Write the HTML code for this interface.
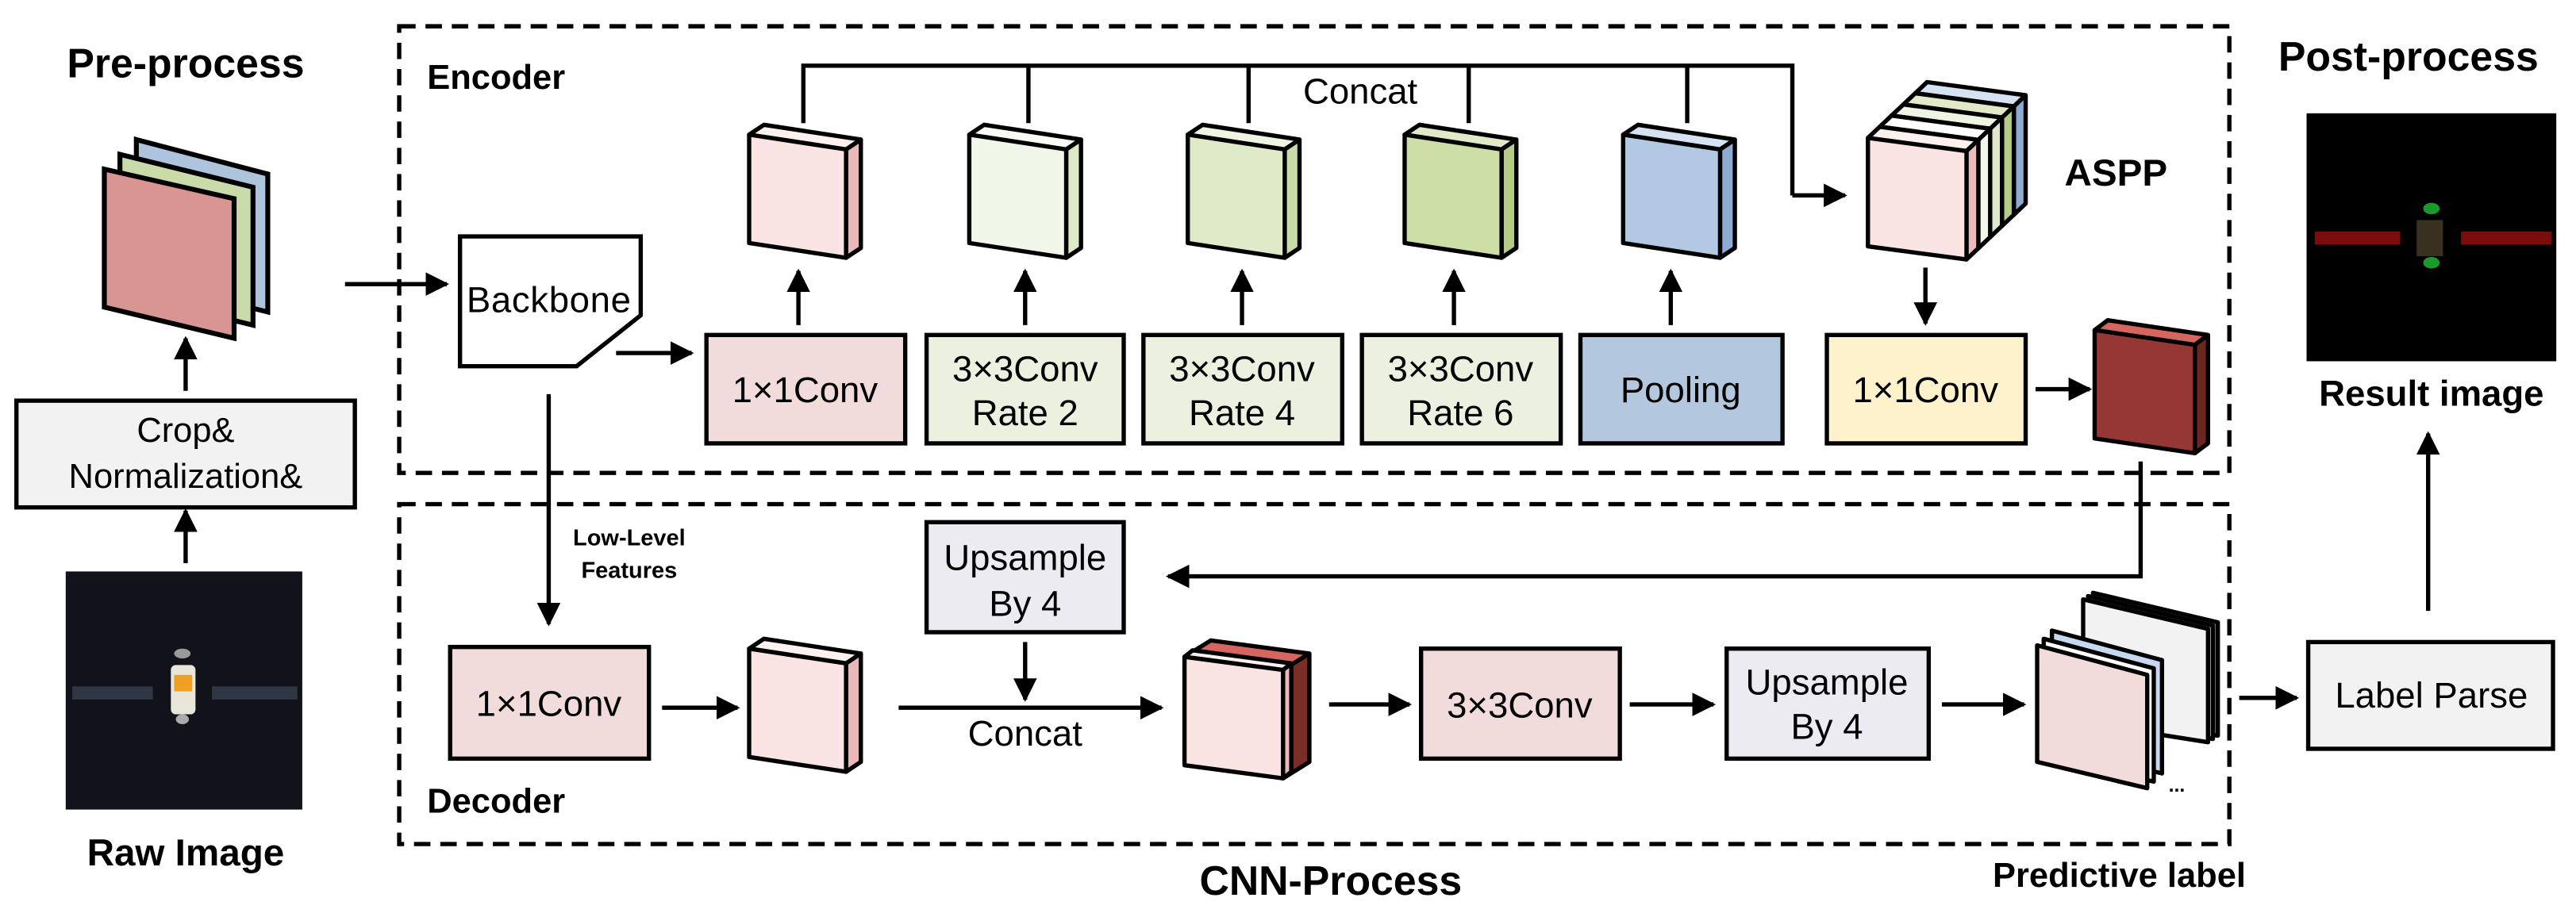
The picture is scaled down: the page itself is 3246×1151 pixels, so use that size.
<!DOCTYPE html>
<html><head><meta charset="utf-8"><style>
html,body{margin:0;padding:0;background:#fff;}
svg{display:block;}
text{font-family:"Liberation Sans",Arial,sans-serif;fill:#000;}
.b{font-weight:bold;}
</style></head><body>
<svg width="3246" height="1151" viewBox="0 0 1568 556" preserveAspectRatio="none" xmlns="http://www.w3.org/2000/svg">
<defs>
<marker id="ah" viewBox="0 0 10 10" refX="9" refY="5" markerWidth="5.5" markerHeight="5.5" orient="auto" markerUnits="strokeWidth">
<path d="M0,0 L10,5 L0,10 z" fill="#000"/></marker>
</defs>
<g stroke="#000" stroke-width="2.6" fill="none" stroke-dasharray="10,6">
<rect x="243" y="16" width="1114" height="272"/>
<rect x="243" y="307" width="1114" height="207"/>
</g>

<text x="113" y="47" font-size="25" class="b" text-anchor="middle">Pre-process</text>
<text x="260" y="54" font-size="21" class="b">Encoder</text>
<text x="260" y="495" font-size="21" class="b">Decoder</text>
<text x="113" y="527" font-size="23" class="b" text-anchor="middle">Raw Image</text>
<text x="810" y="545" font-size="25" class="b" text-anchor="middle">CNN-Process</text>
<text x="1290" y="540" font-size="21" class="b" text-anchor="middle">Predictive label</text>
<text x="1466" y="43" font-size="25" class="b" text-anchor="middle">Post-process</text>
<text x="1480" y="247" font-size="22" class="b" text-anchor="middle">Result image</text>
<text x="1288" y="113" font-size="23" class="b" text-anchor="middle">ASPP</text>

<g stroke="#000" stroke-width="3" stroke-linejoin="miter">
<polygon points="83,85 163,106 163,190 83,170" fill="#aec3dc"/>
<polygon points="73,94 154,114 154,198 73,178" fill="#c9dba8"/>
<polygon points="63.5,103 142.5,121 142.5,206 63.5,187" fill="#d99592"/>
</g>

<rect x="10" y="244" width="206" height="65" fill="#f2f2f2" stroke="#000" stroke-width="2.6"/>
<text x="113" y="269" font-size="21" text-anchor="middle">Crop&amp;</text>
<text x="113" y="297" font-size="21" text-anchor="middle">Normalization&amp;</text>

<rect x="40" y="348" width="144" height="145" fill="#12121a"/>
<rect x="44" y="418" width="49" height="8" fill="#2f3744"/>
<rect x="129" y="418" width="52" height="8" fill="#2f3744"/>
<ellipse cx="111" cy="398" rx="5" ry="3" fill="#9a9a9a"/>
<rect x="104" y="405" width="15" height="30" rx="3" fill="#e8e6d8"/>
<rect x="106" y="411" width="11" height="10" fill="#f0a020"/>
<ellipse cx="111" cy="438" rx="4" ry="3" fill="#aaa"/>

<rect x="1404" y="69" width="152" height="151" fill="#000"/>
<rect x="1409" y="141" width="52" height="8" fill="#7a0c0c"/>
<rect x="1498" y="141" width="55" height="8" fill="#7a0c0c"/>
<rect x="1471" y="134" width="16" height="22" fill="#3a3020"/>
<ellipse cx="1480" cy="127" rx="5" ry="3.5" fill="#1a9a2a"/>
<ellipse cx="1480" cy="160" rx="5" ry="3.5" fill="#1a9a2a"/>

<polygon points="280,144 390,144 390,192 351,223 280,223" fill="#fff" stroke="#000" stroke-width="2.6"/>
<text x="334" y="190" font-size="22" text-anchor="middle" textLength="100">Backbone</text>

<g stroke="#000" stroke-width="2.6">
<rect x="430" y="204" width="121" height="66" fill="#f2dcdb"/>
<rect x="564" y="204" width="120" height="66" fill="#ebf1de"/>
<rect x="696" y="204" width="121" height="66" fill="#ebf1de"/>
<rect x="829" y="204" width="121" height="66" fill="#ebf1de"/>
<rect x="962" y="204" width="123" height="66" fill="#b3c7de"/>
<rect x="1112" y="204" width="121" height="66" fill="#fef2cc"/>
</g>
<g font-size="22" text-anchor="middle">
<text x="490" y="245">1×1Conv</text>
<text x="624" y="232">3×3Conv</text><text x="624" y="259">Rate 2</text>
<text x="756" y="232">3×3Conv</text><text x="756" y="259">Rate 4</text>
<text x="889" y="232">3×3Conv</text><text x="889" y="259">Rate 6</text>
<text x="1023" y="245">Pooling</text>
<text x="1172" y="245">1×1Conv</text>
</g>

<g stroke="#000" stroke-width="2.6" stroke-linejoin="round">
<polygon points="456,82 515,91 524,85 465,76" fill="#fdf1f0"/><polygon points="515,91 524,85 524,151 515,157" fill="#e8b9b8"/><polygon points="456,82 515,91 515,157 456,148" fill="#f9e4e3"/>
<polygon points="590,82 649,91 658,85 599,76" fill="#f8fbf3"/><polygon points="649,91 658,85 658,151 649,157" fill="#dde9c9"/><polygon points="590,82 649,91 649,157 590,148" fill="#f1f7e8"/>
<polygon points="723,82 782,91 791,85 732,76" fill="#eef4e2"/><polygon points="782,91 791,85 791,151 782,157" fill="#c9dba8"/><polygon points="723,82 782,91 782,157 723,148" fill="#dfeac9"/>
<polygon points="855,82 914,91 923,85 864,76" fill="#e0eac8"/><polygon points="914,91 923,85 923,151 914,157" fill="#b6cc86"/><polygon points="855,82 914,91 914,157 855,148" fill="#ccdda5"/>
<polygon points="988,82 1047,91 1056,85 997,76" fill="#d5e2f1"/><polygon points="1047,91 1056,85 1056,151 1047,157" fill="#8eabd2"/><polygon points="988,82 1047,91 1047,157 988,148" fill="#b3c8e2"/>

<polygon points="1165.8,56.8 1225.8,64.8 1233,58 1173,50" fill="#d5e2f1"/><polygon points="1225.8,64.8 1233,58 1233,124 1225.8,130.8" fill="#8eabd2"/><polygon points="1165.8,56.8 1225.8,64.8 1225.8,130.8 1165.8,122.8" fill="#b3c8e2"/>
<polygon points="1158.6,63.6 1218.6,71.6 1225.8,64.8 1165.8,56.8" fill="#e0eac8"/><polygon points="1218.6,71.6 1225.8,64.8 1225.8,130.8 1218.6,137.6" fill="#b6cc86"/><polygon points="1158.6,63.6 1218.6,71.6 1218.6,137.6 1158.6,129.6" fill="#ccdda5"/>
<polygon points="1151.4,70.4 1211.4,78.4 1218.6,71.6 1158.6,63.6" fill="#eef4e2"/><polygon points="1211.4,78.4 1218.6,71.6 1218.6,137.6 1211.4,144.4" fill="#dde9c9"/><polygon points="1151.4,70.4 1211.4,78.4 1211.4,144.4 1151.4,136.4" fill="#dfeac9"/>
<polygon points="1144.2,77.2 1204.2,85.2 1211.4,78.4 1151.4,70.4" fill="#fff"/><polygon points="1204.2,85.2 1211.4,78.4 1211.4,144.4 1204.2,151.2" fill="#f2f7ea"/><polygon points="1144.2,77.2 1204.2,85.2 1204.2,151.2 1144.2,143.2" fill="#fff"/>
<polygon points="1137,84 1197,92 1204.2,85.2 1144.2,77.2" fill="#fdf1f0"/><polygon points="1197,92 1204.2,85.2 1204.2,151.2 1197,158" fill="#ebbcbb"/><polygon points="1137,84 1197,92 1197,158 1137,150" fill="#f9e4e3"/>

<polygon points="1275,201 1336,210 1344,204 1283,195" fill="#d4665f"/><polygon points="1336,210 1344,204 1344,270 1336,276" fill="#6e2520"/><polygon points="1275,201 1336,210 1336,276 1275,267" fill="#953735"/>

<polygon points="456,395 515,404 524,398 465,389" fill="#fdf1f0"/><polygon points="515,404 524,398 524,464 515,470" fill="#e8b9b8"/><polygon points="456,395 515,404 515,470 456,461" fill="#f9e4e3"/>

<polygon points="721,400 781,408 797,398 737,390" fill="#d4665f"/>
<polygon points="781,408 797,398 797,464 781,474" fill="#7a2e28"/>
<polygon points="721,400 781,408 786,404 726,396" fill="#fdf1f0"/>
<polygon points="781,408 786,404 786,470 781,474" fill="#e8b9b8"/>
<polygon points="721,400 781,408 781,474 721,466" fill="#f9e4e3"/>

<polygon points="1274,361 1350,379 1350,448 1274,436" fill="#888"/>
<polygon points="1271,363 1347,381 1347,450 1271,438" fill="#bbb"/>
<polygon points="1268,365 1344,383 1344,452 1268,440" fill="#f2f2f2"/>
<polygon points="1249,384 1316,402 1316,471 1249,455" fill="#c6d9f0"/>
<polygon points="1244,389 1311,407 1311,476 1244,460" fill="#fff"/>
<polygon points="1240,393 1307,411 1307,480 1240,464" fill="#f2dcdb"/>
</g>
<text x="1320" y="482" font-size="12" class="b">...</text>

<g stroke="#000" stroke-width="2.6">
<rect x="274" y="394" width="121" height="68" fill="#f2dcdb"/>
<rect x="564" y="318" width="120" height="67" fill="#ecebf2"/>
<rect x="865" y="395" width="121" height="67" fill="#f2dcdb"/>
<rect x="1051" y="395" width="123" height="67" fill="#ecebf2"/>
<rect x="1405" y="391" width="149" height="65" fill="#f2f2f2"/>
</g>
<g font-size="22" text-anchor="middle">
<text x="334" y="436">1×1Conv</text>
<text x="624" y="347">Upsample</text><text x="624" y="375">By 4</text>
<text x="925" y="437">3×3Conv</text>
<text x="1112" y="423">Upsample</text><text x="1112" y="450">By 4</text>
<text x="1480" y="431">Label Parse</text>
<text x="828" y="63">Concat</text>
<text x="624" y="454">Concat</text>
</g>
<text x="383" y="332" font-size="14" class="b" text-anchor="middle">Low-Level</text>
<text x="383" y="352" font-size="14" class="b" text-anchor="middle">Features</text>

<g stroke="#000" stroke-width="2.6" fill="none">
<path d="M489,75 V40 H1091 V119" />
<path d="M626,40 V75 M760,40 V75 M894,40 V75 M1027,40 V75"/>
<path d="M1091,119 H1123" marker-end="url(#ah)"/>
<path d="M113,238 V206" marker-end="url(#ah)"/>
<path d="M113,343 V311" marker-end="url(#ah)"/>
<path d="M210,173 H272" marker-end="url(#ah)"/>
<path d="M375,215 H421" marker-end="url(#ah)"/>
<path d="M486,198 V165" marker-end="url(#ah)"/>
<path d="M624,198 V165" marker-end="url(#ah)"/>
<path d="M756,198 V165" marker-end="url(#ah)"/>
<path d="M885,198 V165" marker-end="url(#ah)"/>
<path d="M1017,198 V165" marker-end="url(#ah)"/>
<path d="M1172,163 V197" marker-end="url(#ah)"/>
<path d="M1239,237 H1272" marker-end="url(#ah)"/>
<path d="M334,240 V380" marker-end="url(#ah)"/>
<path d="M403,431 H449" marker-end="url(#ah)"/>
<path d="M1303,281 V351 H711" marker-end="url(#ah)"/>
<path d="M624,391 V426" marker-end="url(#ah)"/>
<path d="M547,431 H707" marker-end="url(#ah)"/>
<path d="M809,429 H858" marker-end="url(#ah)"/>
<path d="M992,429 H1043" marker-end="url(#ah)"/>
<path d="M1182,429 H1232" marker-end="url(#ah)"/>
<path d="M1363,425 H1398" marker-end="url(#ah)"/>
<path d="M1478,372 V264" marker-end="url(#ah)"/>
</g>
</svg>
</body></html>
